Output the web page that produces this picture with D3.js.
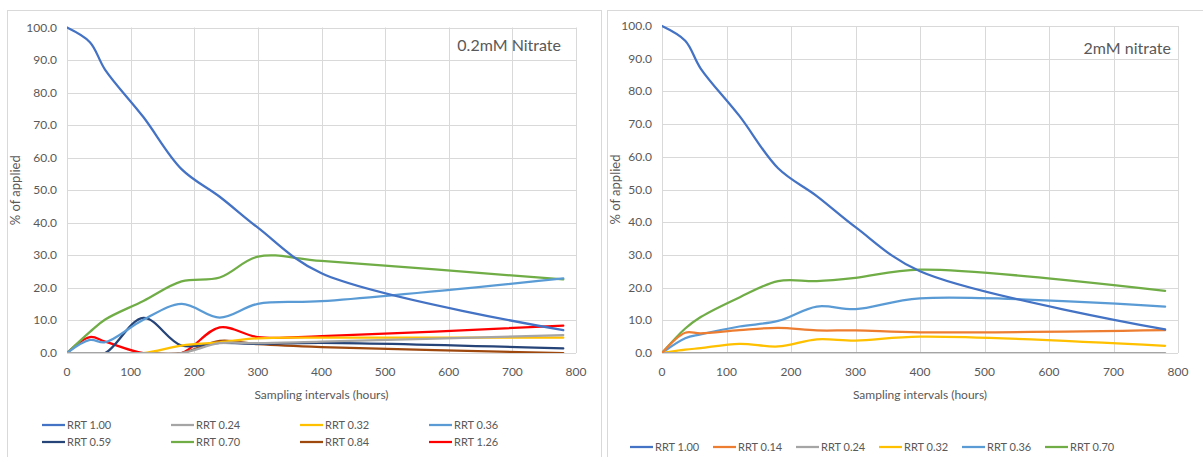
<!DOCTYPE html>
<html>
<head>
<meta charset="utf-8">
<script src="https://cdn.jsdelivr.net/npm/d3@7"></script>
<style>
  body { margin: 0; background: #fff; }
  svg { display: block; font-family: Lato, "Open Sans", sans-serif; }
</style>
</head>
<body>
<svg id="chart" width="1203" height="457"></svg>
<script>
// Probenahmezeiten (Stunden)
const hours = [0, 36, 60, 120, 180, 240, 300, 400, 780];

const xTicks = [0, 100, 200, 300, 400, 500, 600, 700, 800];
const yTicks = [0, 10, 20, 30, 40, 50, 60, 70, 80, 90, 100];

// 0.2mM Nitrat
const lowLabels = ["RRT 1.00", "RRT 0.24", "RRT 0.32", "RRT 0.36", "RRT 0.59", "RRT 0.70", "RRT 0.84", "RRT 1.26"];
const low100 = [100, 95.5, 87, 72.5, 56.5, 48, 38.5, 24.5, 7];
const low024 = [0, 0, 0, 0, 0, 3, 3, 3.5, 5.5];
const low032 = [0, 0, 0, 0, 2.3, 3.3, 4.5, 4.7, 4.7];
const low036 = [0, 4, 3.3, 10.2, 15.1, 10.9, 15.1, 15.9, 22.9];
const low059 = [0, 0, 0, 10.8, 2.3, 3.1, 2.8, 3.1, 1.4];
const low070 = [0, 6.5, 10.3, 16, 22, 23.2, 29.6, 28.3, 22.6];
const low084 = [0, 0, 0, 0, 0, 3.7, 2.7, 1.8, 0];
const low126 = [0, 4.9, 3.5, 0, 0, 7.9, 4.9, 5.2, 8.4];

// 2mM Nitrat
const highLabels = ["RRT 1.00", "RRT 0.14", "RRT 0.24", "RRT 0.32", "RRT 0.36", "RRT 0.70"];
const high100 = [100, 95.5, 87, 72.5, 56.5, 48, 38.5, 25, 7.2];
const high014 = [0, 6.2, 6, 7, 7.7, 6.9, 6.9, 6.3, 7];
const high024 = [0, 0, 0, 0, 0, 0, 0, 0, 0];
const high032 = [0, 1, 1.5, 2.8, 2, 4.2, 3.8, 5, 2.2];
const high036 = [0, 4.5, 5.7, 8.1, 9.8, 14.2, 13.4, 16.7, 14.2];
const high070 = [0, 7.5, 11, 17, 22, 22, 23, 25.5, 19];

const svg = d3.select("#chart");

function drawChart(cfg) {
  const x = d3.scaleLinear().domain([0, 800]).range([cfg.left, cfg.right]);
  const y = d3.scaleLinear().domain([0, 100]).range([cfg.bottom, cfg.top]);
  const g = svg.append("g");

  // Rahmen
  g.append("rect")
    .attr("x", cfg.frame[0] + 0.5).attr("y", 10.5)
    .attr("width", cfg.frame[1] - cfg.frame[0]).attr("height", 460)
    .attr("fill", "none").attr("stroke", "#d9d9d9");

  // Gitter
  g.append("g").selectAll("line").data(yTicks).join("line")
    .attr("x1", cfg.left).attr("x2", cfg.right)
    .attr("y1", d => Math.round(y(d)) + 0.5).attr("y2", d => Math.round(y(d)) + 0.5)
    .attr("stroke", "#d9d9d9");
  g.append("g").selectAll("line").data(xTicks).join("line")
    .attr("x1", d => Math.round(x(d)) + 0.5).attr("x2", d => Math.round(x(d)) + 0.5)
    .attr("y1", cfg.top).attr("y2", cfg.bottom)
    .attr("stroke", "#d9d9d9");

  // Achsenbeschriftung
  g.append("g").selectAll("text").data(yTicks).join("text")
    .attr("x", cfg.left - 10).attr("y", d => y(d) + 4)
    .attr("text-anchor", "end").attr("font-size", 12).attr("fill", "#595959")
    .text(d => d.toFixed(1));
  g.append("g").selectAll("text").data(xTicks).join("text")
    .attr("x", d => x(d)).attr("y", cfg.bottom + 23)
    .attr("text-anchor", "middle").attr("font-size", 12).attr("fill", "#595959")
    .text(d => d);

  g.append("text")
    .attr("x", (cfg.left + cfg.right) / 2).attr("y", 399)
    .attr("text-anchor", "middle").attr("font-size", 12).attr("fill", "#595959")
    .text("Sampling intervals (hours)");
  g.append("text")
    .attr("transform", `translate(${cfg.frame[0] + 13},${(cfg.top + cfg.bottom) / 2}) rotate(-90)`)
    .attr("text-anchor", "middle").attr("font-size", 13).attr("fill", "#595959")
    .text("% of applied");

  g.append("text")
    .attr("x", cfg.titleX).attr("y", cfg.titleY)
    .attr("text-anchor", "end").attr("font-size", 16).attr("fill", "#595959")
    .text(cfg.title);

  // Linien, geglättet
  const clipId = "clip" + cfg.id;
  svg.append("clipPath").attr("id", clipId).append("rect")
    .attr("x", cfg.left).attr("y", cfg.top - 2)
    .attr("width", cfg.right - cfg.left).attr("height", cfg.bottom - cfg.top + 2);

  const line = d3.line()
    .x((d, i) => x(hours[i]))
    .y(d => y(d))
    .curve(d3.curveCatmullRom.alpha(0.5));

  const lines = g.append("g").attr("clip-path", `url(#${clipId})`);
  cfg.series.slice().reverse().forEach(s => {
    lines.append("path")
      .attr("d", line(s.values))
      .attr("fill", "none").attr("stroke", s.color)
      .attr("stroke-width", 2.25).attr("stroke-linecap", "round");
  });

  // Legende
  const leg = g.append("g").selectAll("g").data(cfg.series).join("g")
    .attr("transform", (d, i) => {
      const col = i % cfg.cols, row = Math.floor(i / cfg.cols);
      return `translate(${cfg.legX + col * cfg.legDx},${cfg.legY + row * 17})`;
    });
  leg.append("line").attr("x1", 0).attr("x2", 23)
    .attr("stroke", d => d.color).attr("stroke-width", 2.25);
  leg.append("text").attr("x", 25).attr("y", 4)
    .attr("font-size", 11).attr("fill", "#595959")
    .text(d => d.label);
}

const lowColors = ["#4472c4", "#a5a5a5", "#ffc000", "#5b9bd5", "#264478", "#70ad47", "#9e480e", "#ff0000"];
const lowValues = [low100, low024, low032, low036, low059, low070, low084, low126];
const highColors = ["#4472c4", "#ed7d31", "#a5a5a5", "#ffc000", "#5b9bd5", "#70ad47"];
const highValues = [high100, high014, high024, high032, high036, high070];

drawChart({
  id: "L", left: 67, right: 576, top: 27.5, bottom: 353,
  frame: [7, 601], title: "0.2mM Nitrate", titleX: 561, titleY: 51,
  series: lowLabels.map((l, i) => ({ label: l, color: lowColors[i], values: lowValues[i] })),
  cols: 4, legX: 42, legDx: 129, legY: 425
});

drawChart({
  id: "R", left: 662, right: 1178, top: 26, bottom: 353,
  frame: [607, 1210], title: "2mM nitrate", titleX: 1171, titleY: 54,
  series: highLabels.map((l, i) => ({ label: l, color: highColors[i], values: highValues[i] })),
  cols: 6, legX: 630, legDx: 83, legY: 447
});
</script>
</body>
</html>
